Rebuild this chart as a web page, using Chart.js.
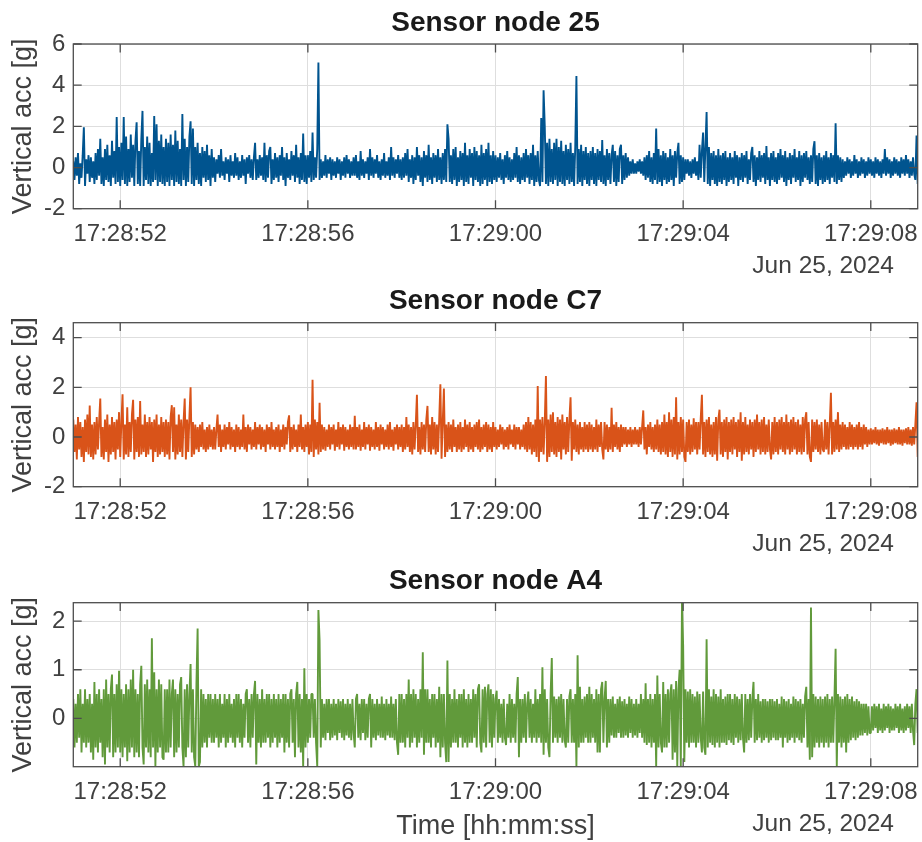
<!DOCTYPE html>
<html lang="en">
<head>
<meta charset="UTF-8">
<title>Vertical acceleration per sensor node</title>
<script src="https://cdn.jsdelivr.net/npm/chart.js"></script>
<style>
  body { margin: 0; background: #fff; }
  .panel { position: absolute; left: 0; width: 922px; }
  #p1 { top: 0; height: 280px; }
  #p2 { top: 280px; height: 280px; }
  #p3 { top: 560px; height: 282px; }
</style>
</head>
<body>
<div class="panel" id="p1"><canvas id="c1" width="922" height="280"></canvas></div>
<div class="panel" id="p2"><canvas id="c2" width="922" height="280"></canvas></div>
<div class="panel" id="p3"><canvas id="c3" width="922" height="282"></canvas></div>

<script>
// time axis: seconds after 17:28:00, one sample every 0.025 s
const startSec = 51;
const stepSec = 0.025;
const tickSeconds = [52, 56, 60, 64, 68];
const tickLabels = ['17:28:52', '17:28:56', '17:29:00', '17:29:04', '17:29:08'];
const dateLabel = 'Jun 25, 2024';

// vertical acceleration [g], two rows per second
const node25 = [
  0.3,-0.6,0.5,-0.4,0.7,-0.8,0.2,-0.5,0.6,1.95,-0.9,0.4,-0.3,0.6,-0.7,0.5,-0.5,0.3,-0.8,0.7,
  -0.6,0.9,-0.4,1.4,-0.8,0.5,-0.9,0.9,-0.6,1.1,-0.7,0.6,-0.9,1.3,-0.5,0.8,-0.8,2.45,-0.7,1.0,
  -0.9,1.2,-0.6,2.45,-0.8,1.5,-0.9,0.9,-0.7,1.6,-0.5,1.1,-0.9,1.3,2.2,-0.8,0.8,-0.9,1.4,2.75,
  -0.9,1.0,-0.6,1.5,-0.8,1.2,-0.9,0.7,-0.7,2.5,-0.6,2.1,-0.9,1.3,-0.7,1.6,-0.8,1.0,-0.9,1.4,
  -0.7,1.2,-0.9,1.6,-0.6,1.1,-0.9,1.8,-0.7,1.3,-0.8,0.9,-0.9,2.6,-0.6,1.4,-0.9,1.0,-0.7,1.5,
  2.25,-0.8,1.9,-0.9,1.0,-0.6,1.2,-0.8,0.7,-0.9,1.0,-0.5,0.8,-0.7,1.1,-0.6,0.6,-0.9,0.9,-0.5,
  0.5,-0.7,0.4,-0.3,0.6,-0.5,0.9,-0.4,0.3,-0.6,0.5,-0.3,0.4,-0.7,0.6,-0.4,0.3,-0.5,0.7,-0.4,
  0.5,-0.6,0.3,-0.5,0.6,-0.4,0.4,-0.8,0.5,-0.3,0.6,-0.5,0.4,-0.6,0.5,1.2,-0.6,0.4,-0.5,0.6,
  -0.4,0.5,-0.6,1.2,-0.7,0.6,-0.5,0.8,1.0,-0.8,0.4,-0.6,0.7,-0.5,0.5,-0.7,0.6,-0.4,1.0,-0.6,
  0.5,-0.9,0.7,-0.5,0.4,-0.6,0.8,-0.4,0.6,-0.7,1.1,-0.5,0.5,-0.8,0.7,-0.6,1.65,-0.7,0.6,-0.8,
  0.6,-0.5,0.8,-0.7,1.7,-0.6,0.5,-0.5,0.9,5.1,-0.6,0.4,-0.5,0.3,-0.4,0.6,-0.5,0.4,-0.3,0.5,
  -0.6,0.4,-0.4,0.3,-0.5,0.5,-0.3,0.4,-0.6,0.3,-0.4,0.5,-0.5,0.6,-0.3,0.4,-0.5,0.3,-0.4,0.5,
  -0.4,0.6,-0.5,0.3,-0.6,0.8,-0.4,0.4,-0.5,0.3,-0.3,0.5,-0.6,0.9,-0.4,0.5,-0.5,0.4,-0.3,0.6,
  -0.5,0.3,-0.6,0.4,-0.4,0.7,-0.5,0.3,-0.4,0.5,-0.6,1.0,-0.4,0.5,-0.5,0.4,-0.3,0.6,-0.5,0.4,
  -0.6,0.5,-0.5,0.7,-0.4,0.9,-0.7,0.4,-0.5,0.6,-0.8,0.5,-0.6,1.0,-0.4,0.6,-0.7,0.5,-0.9,0.8,
  -0.5,0.6,-0.7,1.1,-0.6,0.5,-0.8,0.7,-0.5,0.6,-0.7,0.9,-0.6,0.5,-0.8,0.7,-0.6,0.9,-0.7,2.1,
  1.4,-0.7,0.6,-0.8,0.9,-0.6,1.0,-0.9,0.5,-0.7,0.8,-0.6,0.7,-0.9,1.2,-0.7,0.6,-0.8,0.9,-0.5,
  0.7,-0.9,1.0,-0.6,0.8,-0.7,0.6,-0.9,1.1,-0.8,0.7,-0.6,0.9,-0.9,1.2,-0.7,0.6,-0.8,0.8,-0.6,
  0.6,-0.7,0.5,-0.5,0.7,-0.6,0.4,-0.8,0.6,-0.5,0.8,-0.6,0.5,-0.7,0.4,-0.6,0.7,-0.5,1.0,-0.7,
  0.6,-0.8,0.5,-0.6,0.7,-0.7,0.9,-0.5,0.6,-0.8,0.7,-0.6,1.1,-0.9,0.6,-0.7,0.8,-0.6,-0.9,2.4,
  -0.7,3.75,2.0,-0.8,1.2,-0.9,1.4,-0.7,0.9,-0.8,1.2,-0.6,1.4,-0.9,1.0,-0.7,1.3,-0.8,0.8,-0.9,
  1.1,-0.6,0.9,-0.8,1.2,-0.7,0.7,-0.9,1.0,4.45,-0.8,0.9,-0.7,1.1,-0.9,0.8,-0.6,1.0,-0.8,0.7,
  -0.9,0.8,-0.6,1.0,-0.8,0.7,-0.9,0.9,-0.6,0.8,-0.7,1.33,-0.8,0.6,-0.9,0.9,-0.6,0.7,-0.8,0.6,
  1.1,-0.7,0.8,-0.9,0.6,-0.7,0.9,1.1,-0.8,0.6,-0.6,0.7,-0.5,0.5,-0.4,0.3,-0.3,0.4,-0.3,0.2,
  -0.3,0.3,-0.2,0.4,-0.3,0.3,-0.4,0.5,-0.6,0.6,-0.5,0.8,-0.7,0.5,-0.8,0.7,-0.6,1.9,-0.8,0.9,
  -0.7,0.6,-0.9,0.8,-0.6,0.7,-0.8,0.5,-0.7,0.9,-0.6,0.6,-0.9,0.8,-0.5,0.7,1.2,-0.8,0.6,-0.7,
  0.5,-0.6,0.4,-0.3,0.4,-0.4,0.3,-0.5,0.4,-0.3,0.5,-0.4,0.3,-0.6,1.1,-0.5,0.8,1.7,-0.7,1.0,
  2.7,-0.8,1.0,-0.9,0.7,-0.6,0.8,-0.8,0.6,-0.9,0.9,-0.7,0.6,-0.8,0.7,-0.6,0.8,-0.9,0.5,-0.7,
  0.7,-0.6,0.5,-0.8,0.8,-0.5,0.6,-0.9,0.5,-0.6,0.7,-0.7,0.6,-0.5,0.8,-0.8,0.4,-0.6,0.7,1.0,
  -0.7,0.6,-0.9,0.5,-0.6,0.8,-0.7,0.6,-0.5,0.7,-0.8,1.05,-0.6,0.5,-0.9,0.7,-0.6,0.8,-0.7,0.5,
  -0.8,0.7,-0.6,0.9,-0.5,0.6,-0.7,0.8,-0.9,0.5,-0.6,0.7,-0.8,0.6,-0.5,0.9,-0.7,0.5,-0.6,0.8,
  -0.9,0.6,-0.7,0.7,-0.5,0.8,-0.6,0.5,-0.8,0.6,-0.7,0.9,1.28,-0.8,0.6,-0.9,0.7,-0.6,0.5,-0.8,
  0.6,-0.7,0.8,-0.6,0.5,-0.8,0.7,-0.5,0.6,-0.7,2.15,-0.8,0.6,-0.6,0.5,-0.7,0.4,-0.5,0.3,-0.4,
  0.5,-0.3,0.4,-0.5,0.3,-0.4,0.6,-0.3,0.4,-0.5,0.3,-0.4,0.5,-0.3,0.4,-0.5,0.3,-0.4,0.5,-0.3,
  0.4,-0.4,0.3,-0.5,0.5,-0.3,0.4,-0.4,0.3,-0.5,0.4,-0.3,0.9,-0.4,0.5,-0.3,0.4,-0.5,0.3,-0.4,
  0.5,-0.3,0.4,-0.4,0.3,-0.5,0.5,-0.3,0.4,-0.4,0.6,-0.3,0.4,-0.5,0.3,-0.4,0.5,-0.3,-0.6,1.55,
  -0.8
];

const nodeC7 = [
  0.7,-0.6,0.5,-0.9,0.8,-0.5,0.6,-0.8,0.4,-1.0,0.7,-0.6,0.9,-0.7,1.27,-0.8,0.5,-0.9,0.6,-0.7,
  0.8,-0.5,0.6,1.55,-0.8,0.4,-0.9,0.7,-0.6,0.9,-1.0,0.5,-0.7,0.8,-0.6,0.6,-0.9,0.7,-0.5,1.0,
  -0.8,0.6,1.72,-0.9,0.5,-0.7,1.2,-0.8,0.6,-0.6,0.9,1.5,-0.9,0.7,-0.6,0.8,-0.8,1.45,-0.7,0.5,
  -0.6,0.9,-0.8,0.6,-0.7,0.8,-0.5,0.6,-1.0,0.7,-0.6,0.9,-0.8,0.5,-0.7,0.8,-0.6,0.6,-0.8,0.7,
  -0.7,0.6,-0.9,0.8,1.28,-0.6,1.2,-0.9,0.5,-0.7,0.9,-0.6,0.7,-0.8,0.6,1.55,-0.9,0.7,-0.6,0.8,
  2.0,-0.8,0.6,-0.7,0.5,-0.5,0.4,-0.6,0.5,-0.4,0.6,-0.5,0.3,-0.6,0.4,-0.5,0.5,-0.4,0.3,-0.5,
  0.4,-0.5,0.3,0.9,-0.4,0.5,-0.6,0.3,-0.4,0.5,-0.5,0.4,-0.3,0.6,-0.5,0.4,-0.4,0.3,-0.6,0.5,
  -0.4,0.4,-0.5,0.3,-0.4,0.9,-0.5,0.4,-0.6,0.5,-0.3,0.4,-0.5,0.3,-0.4,0.6,-0.5,0.4,-0.3,0.5,
  -0.5,0.4,-0.4,0.3,-0.6,0.5,-0.3,0.4,-0.5,0.6,-0.4,0.3,-0.5,0.4,-0.4,0.5,-0.6,0.3,-0.4,0.5,
  -0.5,0.4,-0.3,0.6,0.87,-0.6,0.4,-0.5,0.5,-0.4,0.3,-0.6,0.5,-0.4,0.9,-0.5,0.4,-0.6,0.5,-0.4,
  0.6,-0.7,0.5,-0.6,2.3,-0.8,0.7,-0.5,0.6,-0.7,1.38,-0.6,0.5,-0.5,0.4,-0.55,0.3,-0.4,0.5,-0.5,
  0.4,-0.3,0.5,-0.55,0.3,-0.4,0.6,-0.5,0.4,-0.3,0.5,-0.55,0.4,-0.4,0.3,-0.5,0.5,-0.4,0.4,-0.5,
  0.85,-0.5,0.4,-0.4,0.5,-0.55,0.3,-0.4,0.6,-0.5,0.4,-0.3,0.5,-0.55,0.4,-0.4,0.3,-0.5,0.6,-0.4,
  0.4,-0.55,0.5,-0.3,0.4,-0.5,0.3,-0.4,0.5,-0.5,0.6,-0.4,0.3,-0.55,0.4,-0.3,0.5,-0.5,0.4,-0.4,
  0.5,-0.6,0.4,-0.5,0.8,-0.4,0.5,-0.6,0.4,-0.7,0.6,-0.5,0.5,1.7,-0.6,0.4,-0.7,0.6,-0.5,0.5,
  -0.6,0.7,1.25,-0.6,0.5,-0.7,0.8,-0.5,0.6,-0.7,0.5,-0.6,0.7,2.12,-0.87,0.6,1.95,-0.8,0.5,-0.6,
  0.6,-0.5,0.5,-0.6,0.7,-0.4,0.4,-0.6,0.5,-0.5,0.6,-0.6,0.4,-0.5,0.7,-0.4,0.5,-0.6,0.6,-0.5,
  0.4,-0.6,0.5,-0.4,0.6,-0.5,0.7,-0.6,0.4,-0.5,0.5,-0.4,0.6,-0.6,0.5,-0.5,0.4,-0.6,0.6,-0.4,
  0.4,-0.5,0.3,-0.4,0.5,-0.3,0.4,-0.5,0.3,-0.4,0.4,-0.5,0.5,-0.3,0.3,-0.4,0.5,-0.5,0.4,-0.3,
  0.4,-0.5,0.3,-0.4,0.5,-0.5,0.6,-0.6,0.8,-0.5,0.6,-0.7,0.5,-0.6,0.7,-0.8,2.05,-1.0,0.7,-0.6,
  0.8,-0.7,0.6,2.45,-1.0,0.7,-0.8,0.9,-0.6,1.0,-0.7,0.6,-0.8,0.8,-0.6,0.7,-0.9,0.9,-0.5,0.6,
  -0.7,0.8,-0.6,0.7,1.6,-0.95,0.6,-0.5,0.7,-0.6,0.5,-0.7,0.6,-0.5,0.4,-0.6,0.6,-0.5,0.5,-0.6,
  0.6,-0.5,0.5,-0.6,0.4,-0.5,0.7,-0.6,0.5,-0.4,0.6,-0.5,-0.9,0.6,-0.5,0.5,-0.6,0.4,-0.5,1.18,
  -0.6,0.5,-0.4,0.6,-0.5,0.4,-0.6,0.5,-0.4,0.4,-0.3,0.4,-0.4,0.3,-0.3,0.4,-0.4,0.3,-0.3,0.4,
  -0.3,0.3,-0.4,0.4,-0.3,0.4,1.07,-0.5,0.4,-0.7,0.5,-0.4,0.6,-0.5,0.4,-0.6,0.5,-0.5,0.7,-0.6,
  0.5,-0.7,0.6,-0.6,0.9,-0.7,0.6,-0.8,1.0,-0.6,0.7,-0.8,0.8,-0.7,1.6,-0.9,0.6,-0.7,0.8,-0.6,
  0.7,-0.8,-1.0,0.6,-0.6,0.7,-0.7,0.5,-0.6,0.75,-0.5,0.6,-0.7,0.6,-0.5,0.75,1.7,-0.7,0.6,-0.8,
  0.7,-0.6,0.8,-0.7,0.5,-0.8,0.6,-0.7,0.8,-0.95,0.7,1.1,-0.7,0.6,-0.8,0.7,-0.6,0.8,-0.9,0.6,
  -0.6,0.7,-0.7,0.8,-0.5,0.6,-0.8,0.7,-0.6,1.0,-0.95,0.6,-0.7,0.8,-0.6,0.5,-0.7,0.7,-0.5,0.6,
  -0.8,0.7,-0.6,0.9,-0.5,0.6,-0.7,0.7,-0.6,0.8,-0.7,0.5,-0.6,0.7,-0.5,-0.9,0.6,-0.7,0.8,-0.6,
  0.6,-0.7,0.7,-0.5,0.8,-0.6,0.6,-0.7,0.9,-0.5,0.6,-0.7,0.7,-0.6,0.8,-0.5,0.6,-0.7,0.7,-0.6,
  0.5,-0.7,0.8,-0.6,0.7,1.0,-0.7,0.6,-0.8,-1.0,0.7,-0.6,0.6,-0.5,0.7,-0.6,0.5,-0.7,0.6,-0.5,
  -0.6,0.7,-0.5,0.6,-0.7,0.5,1.78,-0.7,0.6,-0.6,0.7,-0.5,1.0,-0.6,0.5,-0.5,0.6,-0.4,0.5,-0.5,
  0.4,-0.5,0.6,-0.4,0.5,-0.5,0.4,-0.4,0.5,-0.5,0.6,-0.4,0.4,-0.5,0.5,-0.3,0.4,-0.4,0.3,-0.3,
  0.35,-0.3,0.3,-0.25,0.4,-0.3,0.3,-0.35,0.3,-0.25,0.35,-0.3,0.3,-0.3,0.4,-0.25,0.3,-0.35,0.3,-0.3,
  0.35,-0.25,0.3,-0.3,0.4,-0.3,0.3,-0.35,0.3,-0.25,0.35,-0.3,0.4,-0.3,0.3,-0.35,0.4,-0.3,0.5,1.4,
  -0.8
];

const nodeA4 = [
  0.4,-0.6,0.3,-0.5,0.5,-0.4,0.6,-0.7,0.3,-0.5,0.6,-0.6,0.4,-0.5,0.5,-0.7,0.3,-0.85,0.75,-0.6,
  0.5,-0.7,0.6,-0.5,0.4,-0.8,0.6,-0.95,0.8,-0.6,0.5,-0.7,0.6,0.9,-0.8,0.5,-0.7,0.7,-0.6,0.98,
  -0.7,0.6,-0.8,0.5,-0.6,0.7,-0.88,0.6,-0.7,0.8,-0.6,1.0,-0.8,0.6,-0.7,0.5,-0.8,0.7,1.08,-0.6,
  -0.95,0.7,-0.6,0.8,-0.7,0.6,-0.8,1.65,-0.6,0.95,-0.98,0.6,-0.7,0.8,-0.6,0.7,-0.8,-0.85,0.6,-0.7,
  0.6,-0.7,0.8,-0.6,0.5,0.8,-0.8,0.6,-0.7,0.5,-0.6,0.7,0.85,-0.6,-0.99,0.6,-0.8,0.7,-0.6,0.5,
  1.12,-0.7,0.6,-0.8,-0.99,0.7,1.85,-0.99,-0.9,0.6,-0.6,0.5,-0.5,0.4,-0.6,0.5,-0.4,0.5,-0.5,0.4,
  -0.5,0.5,-0.4,0.4,-0.6,0.5,-0.5,0.3,-0.4,0.5,-0.6,0.4,-0.5,0.5,-0.4,0.3,-0.5,0.4,-0.6,0.5,
  -0.4,0.5,-0.5,0.4,-0.6,0.3,-0.4,0.5,0.6,-0.5,0.4,-0.6,0.5,-0.4,0.5,0.77,-0.95,0.5,-0.5,0.4,
  -0.6,0.6,-0.5,0.4,-0.5,0.5,-0.4,0.5,-0.6,0.4,-0.5,0.5,-0.4,0.4,-0.6,0.5,-0.5,0.4,-0.4,0.5,
  -0.7,0.5,-0.5,0.4,-0.6,0.5,0.6,-0.5,0.4,-0.8,0.5,0.75,-0.6,0.5,-0.7,0.4,-0.99,1.03,-0.6,0.5,
  -0.5,0.4,-0.4,0.5,0.5,-0.4,0.4,-0.5,-0.99,2.23,1.6,-0.6,0.4,-0.4,0.3,-0.45,0.4,-0.3,0.4,-0.45,
  0.3,-0.4,0.4,-0.35,0.3,-0.45,0.4,-0.3,0.35,-0.4,0.4,-0.45,0.3,-0.35,0.4,-0.4,0.3,-0.45,0.4,-0.3,
  -0.6,0.4,0.5,-0.4,0.3,-0.45,0.4,-0.3,0.4,-0.45,0.3,-0.4,0.4,0.5,-0.6,0.4,-0.4,0.3,-0.45,0.4,
  -0.35,0.3,-0.4,0.45,-0.4,0.3,-0.45,0.4,-0.35,0.3,-0.4,0.45,-0.4,0.3,-0.45,0.4,-0.5,-0.75,0.5,-0.5,
  0.5,-0.5,0.4,-0.6,0.5,-0.4,0.8,-0.6,0.5,-0.5,0.6,-0.4,0.5,-0.6,0.4,-0.5,0.6,-0.4,1.36,-0.75,
  0.6,-0.5,0.6,-0.5,0.4,-0.6,0.5,-0.4,0.5,-0.6,0.4,-0.5,0.65,-0.8,0.5,-0.6,0.5,-0.5,-0.9,1.19,
  -0.9,0.5,-0.6,0.4,-0.5,0.6,-0.5,0.4,-0.6,0.5,-0.4,0.5,-0.6,0.6,-0.5,0.4,-0.6,0.5,-0.5,0.4,
  -0.5,0.6,-0.4,0.5,-0.6,0.6,0.7,-0.5,-0.7,0.6,-0.5,0.65,-0.6,0.5,0.7,-0.5,0.6,-0.6,0.5,-0.4,
  0.4,0.57,-0.5,0.4,-0.4,0.3,-0.5,0.4,-0.4,-0.55,0.3,-0.4,0.5,-0.5,0.4,-0.4,0.3,-0.5,0.5,0.85,
  -0.8,0.4,-0.5,0.4,-0.4,0.5,-0.5,0.3,0.55,-0.4,0.4,-0.5,0.3,-0.4,0.6,-0.5,0.4,-0.4,0.5,-0.5,
  1.05,-0.75,0.6,-0.5,0.4,-0.6,-0.8,0.5,1.24,-0.5,0.45,-0.4,0.4,-0.5,0.45,-0.4,0.5,-0.5,0.4,-0.45,
  -0.6,0.4,-0.5,0.45,0.6,-0.5,0.4,-0.5,0.5,-0.99,1.3,-0.6,0.65,-0.5,0.4,-0.5,0.45,-0.4,0.5,-0.5,
  0.65,-0.5,0.5,-0.4,0.4,-0.5,0.6,-0.7,0.5,-0.7,0.6,0.75,-0.5,0.4,0.77,-0.6,0.4,-0.5,0.4,-0.35,
  0.45,-0.4,0.3,-0.4,0.4,-0.3,0.45,-0.4,0.35,-0.4,0.4,-0.35,0.3,-0.4,0.45,-0.3,0.4,-0.4,0.3,-0.35,
  0.4,-0.4,0.3,-0.3,0.5,-0.4,0.4,-0.5,0.72,-0.55,0.4,-0.5,0.5,-0.6,0.4,-0.5,0.5,-0.99,0.88,-0.6,
  0.5,-0.5,-0.7,0.75,-0.6,0.5,-0.6,0.6,-0.5,0.5,0.7,-0.85,0.6,-0.7,0.77,-0.99,0.6,1.0,-0.99,2.38,
  1.5,-0.9,0.6,-0.5,0.55,-0.6,0.6,-0.5,0.5,-0.5,0.45,-0.6,0.55,-0.5,0.5,-0.4,-0.7,0.55,-0.6,-0.75,
  1.63,-0.6,0.6,-0.5,0.45,-0.55,0.6,-0.6,0.5,-0.5,0.45,-0.6,0.6,-0.5,0.4,-0.5,0.45,-0.55,0.5,-0.45,
  0.5,-0.5,0.4,-0.55,0.5,-0.4,0.45,-0.5,0.4,-0.45,0.5,-0.4,-0.7,0.5,-0.5,0.4,-0.45,0.5,-0.4,0.4,
  0.75,-0.5,0.4,-0.45,0.5,-0.4,0.35,-0.5,0.4,-0.45,0.4,-0.4,0.35,-0.5,0.4,-0.45,0.4,-0.4,0.35,-0.45,
  0.4,-0.45,0.3,-0.4,0.45,-0.6,0.4,-0.4,0.35,-0.5,0.4,-0.45,0.3,-0.4,0.45,-0.5,0.4,-0.4,0.35,-0.45,
  0.4,-0.5,0.3,-0.4,0.45,0.65,-0.6,0.4,-0.85,2.28,-0.8,0.5,-0.6,0.45,-0.5,0.4,-0.6,0.45,-0.5,0.4,
  -0.6,0.45,-0.5,0.5,-0.6,0.4,-0.5,0.45,-0.5,0.4,1.43,-0.99,0.5,-0.5,0.45,-0.6,0.4,-0.5,0.45,-0.7,
  0.5,-0.5,0.4,-0.45,0.45,-0.4,0.35,-0.45,0.4,-0.4,0.35,-0.35,0.3,-0.35,0.3,-0.3,0.3,-0.35,0.25,-0.3,
  -0.3,0.25,-0.25,0.3,-0.2,0.25,-0.3,0.3,-0.25,0.2,-0.3,0.3,-0.25,0.25,-0.2,0.3,-0.3,0.25,-0.25,0.2,
  -0.25,0.3,-0.2,0.25,-0.3,0.3,-0.25,0.2,-0.3,0.25,-0.25,0.3,-0.2,0.25,-0.3,0.3,-0.25,-0.55,0.3,0.6,
  -0.3
];

const fontFamily = '"Liberation Sans", Arial, Helvetica, sans-serif';
const textGray = '#404040';
const gridGray = '#dedede';
const axisGray = '#4d4d4d';
const tickFont = { family: fontFamily, size: 24 };
const labelFont = { family: fontFamily, size: 27, lineHeight: 1.13 };

// MATLAB-like box, inward ticks, bold title and date note
const panelDeco = {
  id: 'panelDeco',
  afterDatasetsDraw(chart, args, opts) {
    const { ctx, chartArea: a, scales: { x, y } } = chart;
    const tl = 8.4;
    ctx.save();
    ctx.strokeStyle = axisGray;
    ctx.lineWidth = 1.3;
    ctx.strokeRect(a.left, a.top, a.right - a.left, a.bottom - a.top);
    ctx.beginPath();
    x.ticks.forEach(t => {
      const px = x.getPixelForValue(t.value);
      ctx.moveTo(px, a.bottom); ctx.lineTo(px, a.bottom - tl);
      ctx.moveTo(px, a.top); ctx.lineTo(px, a.top + tl);
    });
    y.ticks.forEach(t => {
      const py = y.getPixelForValue(t.value);
      ctx.moveTo(a.left, py); ctx.lineTo(a.left + tl, py);
      ctx.moveTo(a.right, py); ctx.lineTo(a.right - tl, py);
    });
    ctx.stroke();

    ctx.fillStyle = '#1a1a1a';
    ctx.font = 'bold 28px ' + fontFamily;
    ctx.textAlign = 'center';
    ctx.textBaseline = 'middle';
    ctx.fillText(opts.title, (a.left + a.right) / 2, a.top - 21);

    ctx.fillStyle = textGray;
    ctx.font = '24.5px ' + fontFamily;
    ctx.textAlign = 'right';
    ctx.fillText(dateLabel, 894, a.bottom + 58);
    ctx.restore();
  }
};

function makePanel(id, p) {
  const pts = p.values.map((v, i) => ({ x: startSec + i * stepSec, y: v }));
  return new Chart(document.getElementById(id), {
    type: 'line',
    data: {
      datasets: [{
        data: pts,
        borderColor: p.color,
        borderWidth: 1.9,
        borderJoinStyle: 'bevel',
        pointRadius: 0,
        tension: 0
      }]
    },
    options: {
      responsive: false,
      animation: false,
      events: [],
      layout: { padding: { top: p.top, right: 4.3, bottom: 0, left: 0 } },
      plugins: {
        legend: { display: false },
        tooltip: { enabled: false },
        panelDeco: { title: p.title }
      },
      scales: {
        x: {
          type: 'linear',
          min: 51,
          max: 69,
          afterBuildTicks: s => { s.ticks = tickSeconds.map(v => ({ value: v })); },
          afterFit: s => {
            s.height = p.xHeight;
            s.paddingLeft = 0; s.paddingRight = 0; s.paddingTop = 0; s.paddingBottom = 0;
          },
          ticks: {
            autoSkip: false,
            maxRotation: 0,
            padding: 11,
            font: tickFont,
            color: textGray,
            callback: (v, i) => tickLabels[i]
          },
          grid: { color: gridGray, drawTicks: false },
          border: { display: false },
          title: {
            display: !!p.xTitle,
            text: p.xTitle || '',
            font: labelFont,
            color: textGray,
            padding: { top: 0, bottom: 0 }
          }
        },
        y: {
          min: p.yMin,
          max: p.yMax,
          afterBuildTicks: s => { s.ticks = p.yTicks.map(v => ({ value: v })); },
          afterFit: s => {
            s.width = 73.3;
            s.paddingTop = 0; s.paddingBottom = 0;
          },
          ticks: { padding: 8, font: tickFont, color: textGray },
          grid: { color: gridGray, drawTicks: false },
          border: { display: false },
          title: {
            display: true,
            text: 'Vertical acc [g]',
            font: { family: fontFamily, size: 27 },
            color: textGray,
            padding: { top: 7, bottom: 0 }
          }
        }
      }
    },
    plugins: [panelDeco]
  });
}

makePanel('c1', {
  title: 'Sensor node 25', values: node25, color: '#00548f',
  yMin: -2, yMax: 6, yTicks: [-2, 0, 2, 4, 6], top: 44, xHeight: 71.3
});
makePanel('c2', {
  title: 'Sensor node C7', values: nodeC7, color: '#d95319',
  yMin: -2, yMax: 4.6, yTicks: [-2, 0, 2, 4], top: 42.7, xHeight: 73.3
});
makePanel('c3', {
  title: 'Sensor node A4', values: nodeA4, color: '#619a3b',
  yMin: -0.995, yMax: 2.38, yTicks: [0, 1, 2], top: 42.7, xHeight: 75.3,
  xTitle: 'Time [hh:mm:ss]'
});
</script>
</body>
</html>
